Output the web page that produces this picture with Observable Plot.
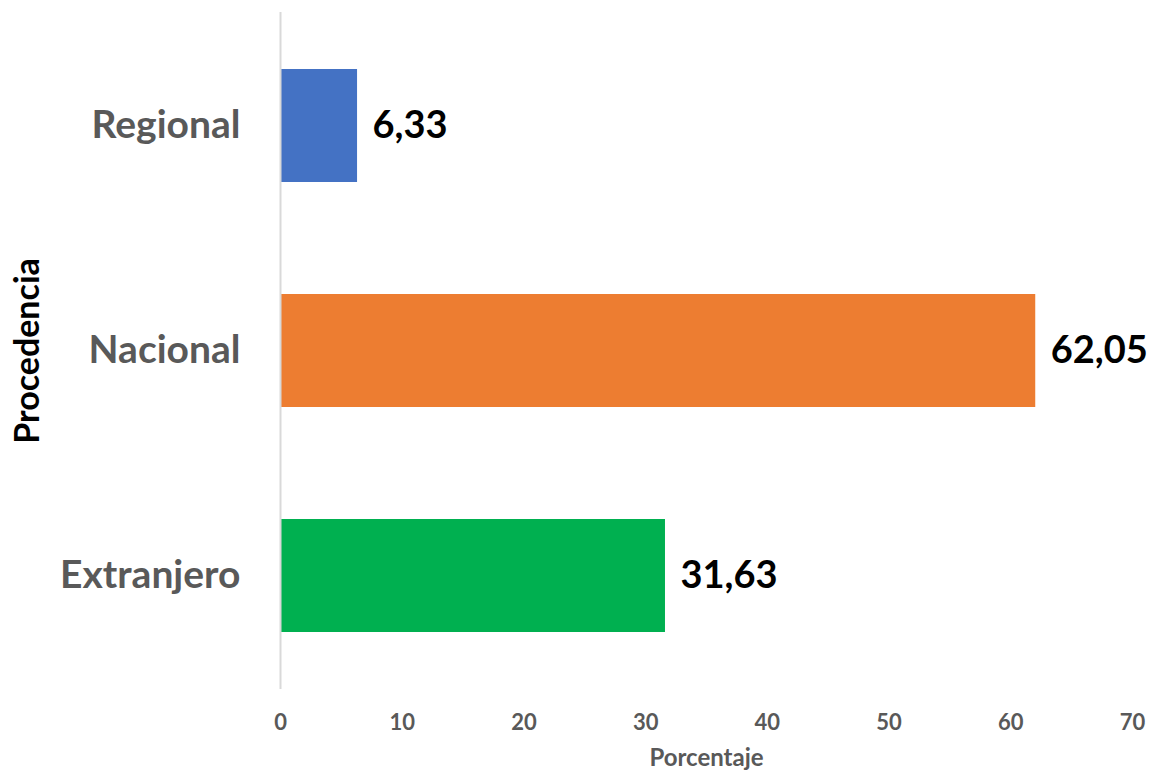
<!DOCTYPE html>
<html>
<head>
<meta charset="utf-8">
<script src="https://cdn.jsdelivr.net/npm/d3@7"></script>
<script src="https://cdn.jsdelivr.net/npm/@observablehq/plot@0.6"></script>
<style>
  html, body { margin: 0; padding: 0; background: #fff; }
  svg { display: block; }
</style>
</head>
<body>
<div id="chart"></div>
<script>
const categories = ["Regional", "Nacional", "Extranjero"];
const values = [6.33, 62.05, 31.63];
const colors = ["#4472C4", "#ED7D31", "#00B050"];
const xTicks = [0, 10, 20, 30, 40, 50, 60, 70];

const data = categories.map((c, i) => ({cat: c, val: values[i], color: colors[i]}));
const fmt = v => v.toFixed(2).replace(".", ",");
const font = "Lato, 'Open Sans', sans-serif";

const chart = Plot.plot({
  width: 1153,
  height: 773,
  marginLeft: 280,
  marginRight: 21,
  marginTop: 12,
  marginBottom: 84,
  style: {fontFamily: font, background: "#fff"},
  x: {domain: [0, 70]},
  y: {domain: categories, paddingInner: 0.5, paddingOuter: 0.25},
  marks: [
    Plot.barX(data, {x: "val", y: "cat", fill: "color"}),
    Plot.ruleX([0], {stroke: "#d9d9d9", strokeWidth: 2}),
    Plot.text(data, {x: "val", y: "cat", text: d => fmt(d.val), textAnchor: "start", dx: 15,
      fontSize: 38, fontWeight: "bold", fill: "#000"}),
    Plot.axisX({ticks: xTicks, tickSize: 0, tickPadding: 25, fontSize: 22, fontWeight: "bold",
      color: "#595959", label: "Porcentaje", labelAnchor: "center", labelOffset: 76, labelArrow: "none"}),
    Plot.axisY({tickSize: 0, tickPadding: 40, fontSize: 39, fontWeight: "bold", color: "#595959",
      label: null}),
    Plot.text(["Procedencia"], {frameAnchor: "left", textAnchor: "middle", dx: -252, rotate: -90, fontSize: 34,
      fontWeight: "bold", fill: "#000"})
  ]
});
d3.select(chart).selectAll("[aria-label='x-axis label'] text, [aria-label='x-axis label']")
  .attr("font-size", 24).attr("font-weight", "bold");
document.getElementById("chart").append(chart);
</script>
</body>
</html>
